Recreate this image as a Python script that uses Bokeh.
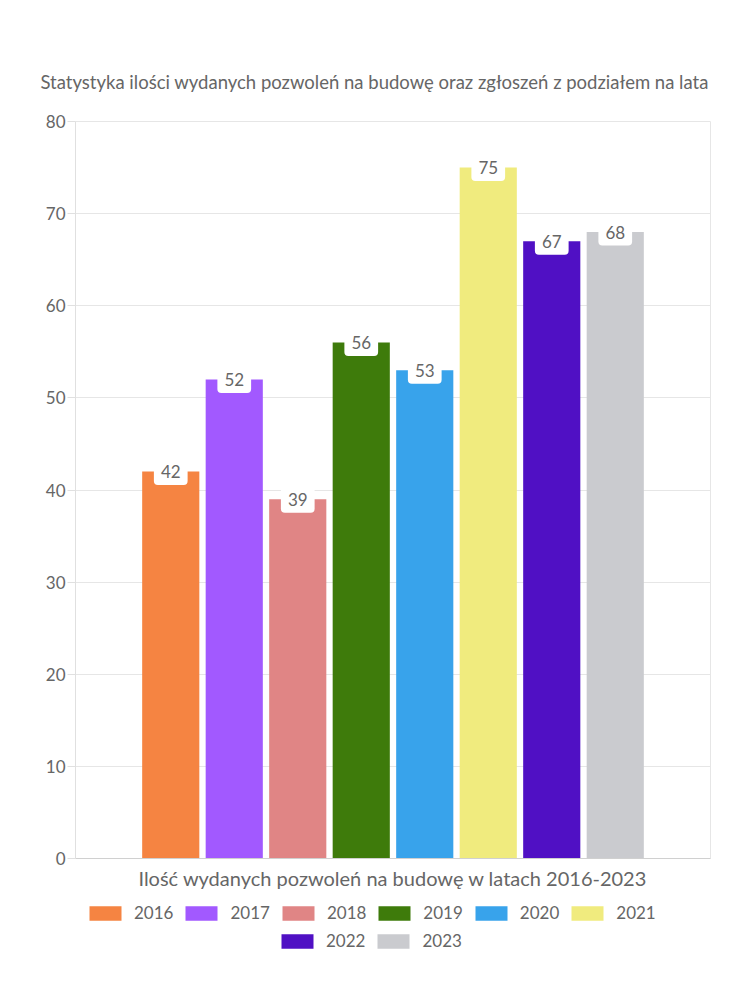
from bokeh.plotting import figure
from bokeh.layouts import column
from bokeh.models import FactorRange, Range1d, ColumnDataSource, Legend, LegendItem, Title
from bokeh.transform import dodge
from bokeh.core.properties import value
from bokeh.embed import file_html
from bokeh.resources import INLINE

title_text = "Statystyka ilości wydanych pozwoleń na budowę oraz zgłoszeń z podziałem na lata"
category = "Ilość wydanych pozwoleń na budowę w latach 2016-2023"
years = ["2016", "2017", "2018", "2019", "2020", "2021", "2022", "2023"]
counts = [42, 52, 39, 56, 53, 75, 67, 68]
colors = ["#F58442", "#A259FF", "#E08585", "#3E7B0B", "#38A3EB", "#F0EB7E", "#5010C4", "#CACBCF"]
y_ticks = [0, 10, 20, 30, 40, 50, 60, 70, 80]

FONT = "Lato"
GREY = "#666666"

p = figure(width=750, height=898, x_range=FactorRange(factors=[category], range_padding=0),
           y_range=Range1d(0, 80), output_backend="svg", toolbar_location=None,
           min_border_left=75, min_border_right=40, min_border_top=121, min_border_bottom=40)
p.title = None
p.add_layout(Title(text=title_text, align="left", text_font=FONT, text_font_size="18.5px",
                   text_color=GREY, text_font_style="normal", offset=-35, standoff=58), "above")

n = len(years)
step = 0.8 / n
for i, (yr, c, col) in enumerate(zip(years, counts, colors)):
    src = ColumnDataSource(dict(x=[category], top=[c], label=[str(c)]))
    off = (i - (n - 1) / 2) * step
    p.vbar(x=dodge("x", off, range=p.x_range), top="top", bottom=0, width=step * 0.9,
           source=src, fill_color=col, line_color=None)
    p.text(x=dodge("x", off, range=p.x_range), y="top", text="label", source=src,
           text_align="center", text_baseline="middle", text_font=value(FONT),
           text_font_size="17px", text_color=GREY,
           background_fill_color="white", border_radius=4, padding=7)

p.yaxis.ticker = y_ticks
p.yaxis.major_label_text_font = FONT
p.yaxis.major_label_text_font_size = "17px"
p.yaxis.major_label_text_color = GREY
p.yaxis.axis_line_color = "#e0e0e0"
p.yaxis.major_tick_line_color = "#e0e0e0"
p.yaxis.major_tick_out = 8
p.yaxis.major_tick_in = 0
p.yaxis.minor_tick_line_color = None
p.yaxis.major_label_standoff = 2

p.xaxis.major_label_text_font = FONT
p.xaxis.major_label_text_font_size = "20px"
p.xaxis.major_label_text_color = GREY
p.xaxis.major_tick_line_color = None
p.xaxis.minor_tick_line_color = None
p.xaxis.axis_line_color = "#d0d0d0"
p.xaxis.major_label_standoff = 1

p.ygrid.grid_line_color = "#e6e6e6"
p.xgrid.grid_line_color = None
p.outline_line_color = "#e6e6e6"

# legend strip below the chart (its frame is aligned with the chart frame)
lg = figure(width=750, height=102, x_range=Range1d(0, 1), y_range=Range1d(0, 1),
            output_backend="svg", toolbar_location=None, min_border=0)
lg.axis.visible = False
lg.grid.visible = False
lg.outline_line_color = None
items = []
for yr, col in zip(years, colors):
    # zero-height swatch renderer: only its legend entry is visible
    r = lg.vbar(x=[0.5], top=[0], bottom=0, width=0.1, fill_color=col, line_color=None)
    items.append(LegendItem(label=yr, renderers=[r]))

leg_kw = dict(orientation="horizontal", glyph_width=40, glyph_height=18, label_height=18,
              label_standoff=9, spacing=8, padding=0, margin=0, border_line_alpha=0,
              background_fill_alpha=0, label_text_font=FONT, label_text_font_size="17px",
              label_text_color=GREY)
lg.add_layout(Legend(items=items[:6], location=(10, 77), **leg_kw), "center")
lg.add_layout(Legend(items=items[6:], location=(202, 49), **leg_kw), "center")

open("out.html", "w").write(file_html(column(p, lg, spacing=0), INLINE))
